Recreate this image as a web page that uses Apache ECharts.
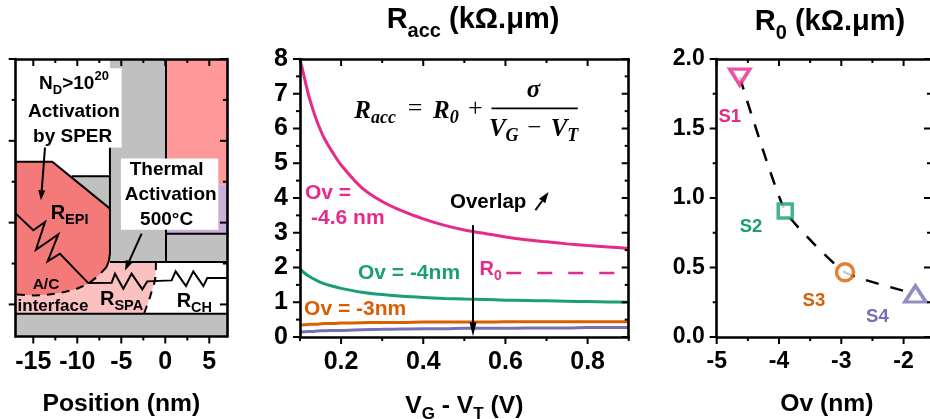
<!DOCTYPE html>
<html>
<head>
<meta charset="utf-8">
<style>html,body{margin:0;padding:0;background:#fff}#c{width:930px;height:419px}</style>
<script src="https://cdn.jsdelivr.net/npm/echarts@6/dist/echarts.min.js"></script>
</head>
<body>
<div id="c"></div>
<script>
// ---------- middle panel data ----------
const vgVt   = [0.1,0.11,0.12,0.13,0.14,0.15,0.16,0.18,0.2,0.25,0.3,0.35,0.4,0.45,0.5,0.55,0.6,0.65,0.7,0.75,0.8,0.85,0.9];
const racc46 = [8.0,7.5,7.0,6.6,6.25,5.95,5.7,5.3,4.95,4.3,3.9,3.62,3.4,3.22,3.08,2.98,2.88,2.8,2.74,2.68,2.63,2.59,2.55];
const racc40 = [1.95,1.85,1.76,1.69,1.63,1.57,1.53,1.46,1.4,1.29,1.22,1.17,1.14,1.11,1.09,1.08,1.06,1.05,1.04,1.03,1.02,1.01,1.0];
const racc30 = [0.34,0.35,0.36,0.37,0.37,0.38,0.39,0.39,0.4,0.41,0.42,0.42,0.43,0.43,0.43,0.43,0.44,0.44,0.44,0.44,0.44,0.44,0.44];
const racc18 = [0.14,0.15,0.16,0.16,0.17,0.18,0.18,0.19,0.19,0.21,0.22,0.23,0.24,0.24,0.25,0.25,0.25,0.26,0.26,0.26,0.27,0.27,0.27];
const r0Level = [[0.602,1.84],[0.888,1.84]];
// ---------- right panel data ----------
const overlapNm = [-4.63,-3.9,-2.94,-1.81];
const r0Values  = [1.87,0.906,0.465,0.31];
const sampleNames = ['S1','S2','S3','S4'];
// ---------- tick values ----------
const leftXMajor=[-15,-10,-5,0,5], leftXMinor=[-12.5,-7.5,-2.5,2.5];
const leftYMajor=[0,10,20,30], leftYMinor=[5,15,25];
const midXMajor=[0.2,0.4,0.6,0.8], midXMinor=[0.1,0.3,0.5,0.7,0.9];
const midYMajor=[0,1,2,3,4,5,6,7,8], midYMinor=[0.5,1.5,2.5,3.5,4.5,5.5,6.5,7.5];
const rightXMajor=[-5,-4,-3,-2], rightXMinor=[-4.5,-3.5,-2.5];
const rightYMajor=[0,0.5,1,1.5,2], rightYMinor=[0.25,0.75,1.25,1.75];
// ---------- left panel schematic (position nm, depth nm) ----------
const gateColumn=[[-6.29,30],[0.08,30],[0.08,5.18],[-6.29,5.18]];
const spacerWedge=[[-10.64,15.67],[-6.29,15.67],[-6.29,11.71]];
const metalRegion=[[0.08,30],[7,30],[7,14.69],[0.08,14.69]];
const dielectric=[[0.08,14.69],[7,14.69],[7,8.65],[0.08,8.65]];
const oxideRight=[[0.08,8.65],[7,8.65],[7,5.18],[0.08,5.18]];
const substrate=[[-17,-1.14],[7,-1.14],[7,-3.92],[-17,-3.92]];
const epiRegion=[[-17,17.43],[-12.84,17.43],[-6.29,11.71],[-6.29,6.2],[-6.4,5.4],[-6.67,4.57],[-7.6,3.5],[-8.75,2.53],[-10.2,1.85],[-11.97,1.39],[-13.5,1.17],[-15,1.1],[-17,1.22]];
const spaRegion=[[-6.6,5.18],[-1.06,5.18],[-1.08,4],[-1.17,2.9],[-1.74,0.9],[-2.42,-1.14],[-17,-1.14],[-17,1.22],[-15,1.1],[-13.5,1.17],[-11.97,1.39],[-10.2,1.85],[-8.75,2.53],[-7.6,3.5],[-6.67,4.57]];
const epiBoundary=[[-6.67,4.57],[-7.6,3.5],[-8.75,2.53],[-10.2,1.85],[-11.97,1.39],[-13.5,1.17],[-15,1.1],[-17,1.22]];
const spaBoundary=[[-1.06,5.18],[-1.08,4],[-1.17,2.9],[-1.74,0.9],[-2.42,-1.14]];
const epiTopEdge=[[-17,17.43],[-12.84,17.43],[-6.29,11.71]];
const wedgeEdge=[[-10.64,15.67],[-6.29,15.67]];
const gateLeftEdge=[[-6.29,19.18],[-6.29,6.2],[-6.4,5.4],[-6.67,4.57]];
const gateRightEdge=[[0.08,30],[0.08,5.18]];
const channelTop=[[-6.29,5.18],[7,5.18]];
const stackEdge=[[0.08,8.65],[7,8.65]];
const channelBottom=[[-17,-1.14],[7,-1.14]];
const resistorPath=[[-17,11.1],[-15,9.06],[-13.67,10.08],[-14.7,6.69],[-12.16,8.57],[-13.37,5.27],[-11.97,6.2],[-8.75,2.61],[-6.1,2.65],[-5.72,3.76],[-4.77,1.92],[-3.83,3.76],[-2.61,1.84],[-2.05,2.82],[0.72,2.94],[1.17,4.04],[2.35,2.24],[3.18,4.04],[4.32,2.24],[4.77,3.22],[7,3.22]];
const labelBox1=[[-16.6,28.86],[-4.96,28.86],[-4.96,19.18],[-16.6,19.18]];
const labelBox2=[[-5.04,17.84],[6.02,17.84],[6.02,9.14],[-5.04,9.14]];

const SANS='"Liberation Sans",Arial,sans-serif', SERIF='"Liberation Serif",serif';
const PINK='#e7298a',GREEN='#1b9e77',ORANGE='#d95f02',PURPLE='#7570b3';
const GRAY='#c0c0c0';
const sampleColors=[PINK,GREEN,ORANGE,PURPLE];
const sampleSymbols=['triangle','rect','circle','triangle'];
const sampleRotate=[180,0,0,0];
const sampleSize=[[20,16],[14,14],[17,17],[21,16]];

function rt(size,subSize,color,extra){
  return Object.assign({
    b:{fontFamily:SANS,fontWeight:'bold',fontSize:size,fill:color,color:color,lineHeight:size+8},
    s:{fontFamily:SANS,fontWeight:'bold',fontSize:subSize,fill:color,color:color,lineHeight:subSize,verticalAlign:'bottom'},
    u:{fontFamily:SANS,fontWeight:'bold',fontSize:subSize,fill:color,color:color,lineHeight:subSize,verticalAlign:'top'}
  },extra||{});
}
function titleRich(){
  return rt(29,20,'#000',{b:{fontFamily:SANS,fontWeight:'bold',fontSize:29,color:'#000',lineHeight:42}});
}
function poly(api,pts,fill){return {type:'polygon',shape:{points:pts.map(p=>api.coord(p))},style:{fill:fill,stroke:null}};}
function pline(api,pts,w,dash,color){return {type:'polyline',shape:{points:pts.map(p=>api.coord(p))},style:{fill:null,stroke:color||'#000',lineWidth:w,lineDash:dash||null}};}
function arrow(api,from,to,w,L,H){
  const a=api.coord(from),b=api.coord(to),dx=b[0]-a[0],dy=b[1]-a[1],n=Math.hypot(dx,dy),ux=dx/n,uy=dy/n;
  const bx=b[0]-ux*L,by=b[1]-uy*L;
  return [
    {type:'line',shape:{x1:a[0],y1:a[1],x2:bx,y2:by},style:{stroke:'#000',lineWidth:w}},
    {type:'polygon',shape:{points:[b,[bx-uy*H,by+ux*H],[bx+uy*H,by-ux*H]]},style:{fill:'#000'}}
  ];
}
function txt(api,pos,text,size,o){
  o=o||{};
  const p=api.coord(pos);
  return {type:'text',x:p[0],y:p[1],style:{text:text,fontFamily:o.family||SANS,fontWeight:o.weight||'bold',fontStyle:o.style||'normal',fontSize:size,fill:o.color||'#000',align:o.align||'center',verticalAlign:'middle',rich:o.rich}};
}

function leftRender(params,api){
  const P=(a,f)=>poly(api,a,f),L=(a,w,d)=>pline(api,a,w,d);
  const sub=rt(20,14.5,'#000');
  const c=[
    P(gateColumn,GRAY),P(spacerWedge,GRAY),P(metalRegion,'#ff9999'),P(dielectric,'#c8b0d8'),P(oxideRight,GRAY),P(substrate,GRAY),
    P(spaRegion,'#fbc0c0'),P(epiRegion,'#f47a7a'),
    L(epiTopEdge,2),L(wedgeEdge,2),L(gateLeftEdge,2),L(gateRightEdge,2),L(channelTop,2),L(stackEdge,2),L(channelBottom,2),
    L(epiBoundary,2,[8,7]),L(spaBoundary,2,[8,7]),L(resistorPath,2),
    P(labelBox1,'#fff'),P(labelBox2,'#fff'),
    txt(api,[-10.38,27.02],'{b|N}{s|D}{b|>10}{u|20}',19,{rich:rt(19,13,'#000')}),
    txt(api,[-10.38,23.55],'Activation',19),
    txt(api,[-10.53,20.49],'by SPER',19),
    txt(api,[0.15,16.41],'Thermal',19),
    txt(api,[0.61,13.35],'Activation',19),
    txt(api,[0.15,10.29],'500°C',19),
    txt(api,[-13.03,11.1],'{b|R}{s|EPI}',20,{align:'left',rich:sub}),
    txt(api,[-7.42,0.6],'{b|R}{s|SPA}',20,{align:'left',rich:sub}),
    txt(api,[1.29,0.35],'{b|R}{s|CH}',20,{align:'left',rich:sub}),
    txt(api,[-13.56,2.41],'A/C',15.5),
    txt(api,[-12.76,-0.2],'interface',17)
  ];
  return {type:'group',children:c.concat(arrow(api,[-13.67,19.18],[-14.13,12.73],2,10,3.5),arrow(api,[-2.69,8.65],[-4.58,4.16],2,10,3.5))};
}
function midRender(params,api){
  const mf={family:SERIF,style:'italic'};
  const mrich=rt(25,18,'#000',{b:{fontFamily:SERIF,fontWeight:'bold',fontStyle:'italic',fontSize:25,fill:'#000',lineHeight:33},s:{fontFamily:SERIF,fontWeight:'bold',fontStyle:'italic',fontSize:18,fill:'#000',lineHeight:18,verticalAlign:'bottom'}});
  const c=[
    txt(api,[0.232,6.5],'{b|R}{s|acc}',25,Object.assign({align:'left',rich:mrich},mf)),
    txt(api,[0.38,6.55],'=',26,{family:SERIF,weight:'normal'}),
    txt(api,[0.424,6.5],'{b|R}{s|0}',25,Object.assign({align:'left',rich:mrich},mf)),
    txt(api,[0.527,6.55],'+',26,{family:SERIF,weight:'normal'}),
    txt(api,[0.668,7.1],'σ',25,mf),
    pline(api,[[0.566,6.58],[0.776,6.58]],1.6),
    txt(api,[0.632,5.98],'{b|V}{s|G}',25,Object.assign({align:'right',rich:mrich},mf)),
    txt(api,[0.67,6.0],'−',25,{family:SERIF,weight:'normal'}),
    txt(api,[0.71,5.98],'{b|V}{s|T}',25,Object.assign({align:'left',rich:mrich},mf)),
    txt(api,[0.112,4.14],'Ov =',21,{color:PINK,align:'left'}),
    txt(api,[0.127,3.42],'-4.6 nm',21,{color:PINK,align:'left'}),
    txt(api,[0.241,1.84],'Ov = -4nm',21,{color:GREEN,align:'left'}),
    txt(api,[0.11,0.8],'Ov = -3nm',21,{color:ORANGE,align:'left'}),
    txt(api,[0.537,1.95],'{b|R}{s|0}',20,{align:'left',rich:rt(20,14,PINK)}),
    txt(api,[0.558,3.88],'Overlap',20.5)
  ];
  return {type:'group',children:c.concat(arrow(api,[0.521,3.22],[0.521,0.02],2,14,3.5),arrow(api,[0.673,3.65],[0.705,4.17],2,11,3.8))};
}
function rightRender(params,api){
  const lab=[[-4.79,1.58],[-4.45,0.79],[-3.44,0.26],[-2.42,0.145]];
  return {type:'group',children:sampleNames.map((n,i)=>txt(api,lab[i],n,18.5,{color:sampleColors[i]}))};
}
// Tick marks, placed through each panel's own scales: out on bottom/left, in on top/right.
function tickSeries(axisIndex,xr,yr,xMajor,xMinor,yMajor,yMinor){
  return {type:'custom',xAxisIndex:axisIndex,yAxisIndex:axisIndex,data:[[xr[0],yr[0]]],clip:false,z:12,silent:true,
    renderItem(params,api){
      const seg=(a,b)=>({type:'line',shape:{x1:a[0],y1:a[1],x2:b[0],y2:b[1]},style:{stroke:'#000',lineWidth:2}});
      const kids=[];
      const addX=(vals,len)=>vals.forEach(v=>{
        const b=api.coord([v,yr[0]]),t=api.coord([v,yr[1]]);
        kids.push(seg(b,[b[0],b[1]+len]),seg(t,[t[0],t[1]+len]));
      });
      const addY=(vals,len)=>vals.forEach(v=>{
        const l=api.coord([xr[0],v]),r=api.coord([xr[1],v]);
        kids.push(seg(l,[l[0]-len,l[1]]),seg(r,[r[0]-len,r[1]]));
      });
      addX(xMajor,7);addX(xMinor,4);addY(yMajor,7);addY(yMinor,4);
      return {type:'group',children:kids};
    }};
}

function axisPair(dim,gridIndex,min,max,major,labelFmt,labelSize,labelOn,nameCfg){
  const base={type:'value',gridIndex:gridIndex,min:min,max:max,z:10,splitLine:{show:false},axisTick:{show:false},
    axisLine:{show:true,onZero:false,lineStyle:{color:'#000',width:2.6}}};
  const pos=dim==='x'?['bottom','top']:['left','right'];
  return [
    Object.assign({},base,{position:pos[0],axisLabel:{show:labelOn,customValues:major,formatter:labelFmt,fontFamily:SANS,fontWeight:'bold',fontSize:labelSize,color:'#000',margin:dim==='x'?13:12,hideOverlap:false}},nameCfg||{}),
    Object.assign({},base,{position:pos[1],axisLabel:{show:false}})
  ];
}
function nameCfg(name,gap,rich,pad){
  return {name:name,nameLocation:'middle',nameGap:gap,nameTextStyle:{fontFamily:SANS,fontWeight:'bold',fontSize:24.7,color:'#000',rich:rich,padding:pad||0}};
}
const xAxes=[].concat(
  axisPair('x',0,-17,7,leftXMajor,v=>String(v),25,true,nameCfg('Position (nm)',55)),
  axisPair('x',1,0.1,0.9,midXMajor,v=>v.toFixed(1),25,true,nameCfg('{b|V}{s|G}{b| - V}{s|T}{b| (V)}',53,rt(24.7,17,'#000'))),
  axisPair('x',2,-5,-1.56,rightXMajor,v=>String(v),23,true,nameCfg('Ov (nm)',55,null,[0,0,0,6]))
);
const yAxes=[].concat(
  axisPair('y',0,-3.92,30,leftYMajor,v=>String(v),25,false),
  axisPair('y',1,0,8,midYMajor,v=>String(v),25,true),
  axisPair('y',2,0,2,rightYMajor,v=>v.toFixed(1),23,true)
);
function curve(ys,color){
  return {type:'line',xAxisIndex:2,yAxisIndex:2,data:vgVt.map((x,i)=>[x,ys[i]]),showSymbol:false,smooth:0.3,clip:true,lineStyle:{color:color,width:3},z:3,silent:true};
}
const option={
  animation:false,
  backgroundColor:'#fff',
  grid:[
    {left:15.7,top:59,width:211.2,height:277.5,outerBoundsMode:'none'},
    {left:300,top:59,width:328.7,height:278,outerBoundsMode:'none'},
    {left:716.7,top:59,width:214.3,height:278,outerBoundsMode:'none'}
  ],
  title:[
    {text:'{b|R}{s|acc}{b| (kΩ.μm)}',left:468,top:-6,textAlign:'center',textStyle:{rich:titleRich()}},
    {text:'{b|R}{s|0}{b| (kΩ.μm)}',left:825,top:-4,textAlign:'center',textStyle:{rich:titleRich()}}
  ],
  xAxis:xAxes,
  yAxis:yAxes,
  series:[
    {type:'custom',xAxisIndex:0,yAxisIndex:0,data:[[0,0]],renderItem:leftRender,clip:false,z:2,silent:true},
    tickSeries(0,[-17,7],[-3.92,30],leftXMajor,leftXMinor,leftYMajor,leftYMinor),
    curve(racc18,PURPLE),curve(racc30,ORANGE),curve(racc40,GREEN),curve(racc46,PINK),
    {type:'line',xAxisIndex:2,yAxisIndex:2,data:r0Level,showSymbol:false,lineStyle:{color:PINK,width:2.6,type:[15,16]},z:3,silent:true},
    {type:'custom',xAxisIndex:2,yAxisIndex:2,data:[[0.5,1]],renderItem:midRender,clip:false,z:5,silent:true},
    tickSeries(2,[0.1,0.9],[0,8],midXMajor,midXMinor,midYMajor,midYMinor),
    {type:'line',xAxisIndex:4,yAxisIndex:4,data:overlapNm.map((x,i)=>[x,r0Values[i]]),showSymbol:false,smooth:0.15,lineStyle:{color:'#000',width:2.5,type:[13,12]},z:3,silent:true},
    {type:'custom',xAxisIndex:4,yAxisIndex:4,data:[[-3,1]],renderItem:rightRender,clip:false,z:5,silent:true},
    tickSeries(4,[-5,-1.56],[0,2],rightXMajor,rightXMinor,rightYMajor,rightYMinor)
  ].concat(sampleNames.map((n,i)=>({
    type:'scatter',name:n,xAxisIndex:4,yAxisIndex:4,data:[[overlapNm[i],r0Values[i]]],symbol:sampleSymbols[i],symbolRotate:sampleRotate[i],symbolSize:sampleSize[i],
    itemStyle:{color:'#fff',borderColor:sampleColors[i],borderWidth:3.5},z:4,silent:true
  })))
};
const chart=echarts.init(document.getElementById('c'),null,{renderer:'canvas'});
chart.setOption(option);
</script>
</body>
</html>
